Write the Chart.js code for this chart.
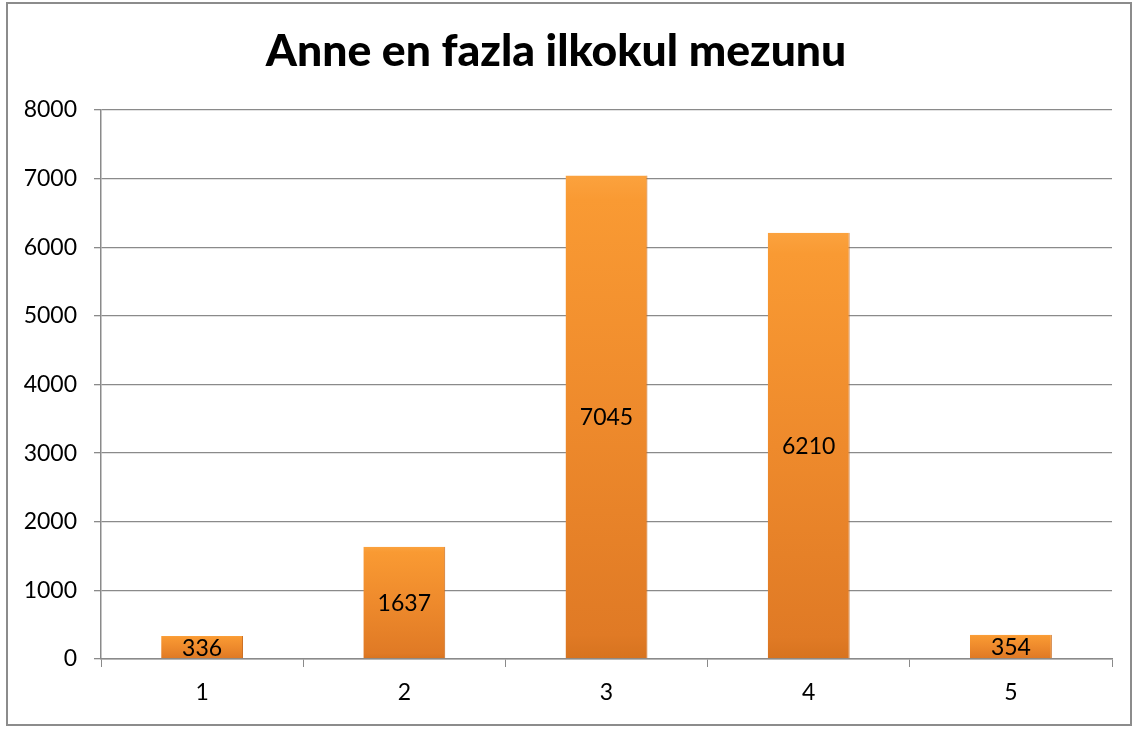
<!DOCTYPE html>
<html>
<head>
<meta charset="utf-8">
<script src="https://cdn.jsdelivr.net/npm/chart.js@4"></script>
<style>
html,body{margin:0;padding:0;background:#fff;}
#wrap{width:1134px;height:729px;position:relative;}
</style>
</head>
<body>
<div id="wrap"><canvas id="c" width="1134" height="729"></canvas></div>
<script>
const chartTitle = "Anne en fazla ilkokul mezunu";
const categories = ["1", "2", "3", "4", "5"];
const values = [336, 1637, 7045, 6210, 354];
const yTicks = [0, 1000, 2000, 3000, 4000, 5000, 6000, 7000, 8000];

const FONT = "Lato, 'Open Sans', sans-serif";
const GRID = "#8a8a8a";

const borderPlugin = {
  id: 'outerBorder',
  beforeDraw(chart) {
    const ctx = chart.ctx;
    ctx.save();
    ctx.fillStyle = '#fff';
    ctx.fillRect(0, 0, chart.width, chart.height);
    ctx.strokeStyle = '#8c8c8c';
    ctx.lineWidth = 2;
    ctx.strokeRect(7, 3, 1124, 722);
    ctx.restore();
  }
};

const labelPlugin = {
  id: 'barLabels',
  afterDatasetsDraw(chart) {
    const ctx = chart.ctx;
    const meta = chart.getDatasetMeta(0);
    ctx.save();
    ctx.font = "23px " + FONT;
    ctx.fillStyle = '#000';
    ctx.textAlign = 'center';
    ctx.textBaseline = 'middle';
    meta.data.forEach((bar, i) => {
      const p = bar.getCenterPoint();
      ctx.fillText(String(chart.data.datasets[0].data[i]), p.x, p.y + 1);
    });
    ctx.restore();
  }
};

function barFill(c) {
  const ch = c.chart;
  if (!ch.chartArea || c.type !== 'data' || !ch.scales.y) return '#F39232';
  const ys = ch.scales.y;
  const top = ys.getPixelForValue(c.raw);
  const bot = ys.getPixelForValue(0);
  if (!isFinite(top) || !isFinite(bot) || bot - top < 1) return '#F39232';
  const g = ch.ctx.createLinearGradient(0, top, 0, bot);
  g.addColorStop(0, '#FBA23E');
  g.addColorStop(0.05, '#F99A33');
  g.addColorStop(0.5, '#EE8A2C');
  g.addColorStop(0.95, '#E07A25');
  g.addColorStop(1, '#D7731F');
  return g;
}

new Chart(document.getElementById('c'), {
  type: 'bar',
  data: {
    labels: categories,
    datasets: [{
      data: values,
      backgroundColor: barFill,
      borderColor: '#C96A1C',
      borderWidth: {left: 0, right: 1, top: 0, bottom: 0},
      barPercentage: 0.9,
      categoryPercentage: 0.45
    }]
  },
  options: {
    responsive: false,
    animation: false,
    devicePixelRatio: 1,
    layout: { padding: { left: 0, right: 22, top: 0, bottom: 0 } },
    plugins: {
      legend: { display: false },
      tooltip: { enabled: false },
      title: {
        display: true,
        text: chartTitle,
        color: '#000',
        font: { family: FONT, size: 44.5, weight: '900', lineHeight: 1.2 },
        padding: { top: 25, bottom: 31.6 }
      }
    },
    scales: {
      x: {
        grid: { display: true, offset: true, drawOnChartArea: false, color: GRID, tickLength: 8, lineWidth: 1 },
        border: { display: true, color: GRID, width: 1.5 },
        ticks: { color: '#000', font: { family: FONT, size: 23 }, padding: 12 },
        afterFit(s) { s.height = 70; }
      },
      y: {
        min: 0,
        max: 8000,
        afterBuildTicks(s) { s.ticks = yTicks.map(v => ({ value: v })); },
        grid: { color: GRID, tickLength: 7, lineWidth: 1.3 },
        border: { display: true, color: GRID, width: 1.5 },
        ticks: { color: '#000', font: { family: FONT, size: 23 }, padding: 17, callback: v => String(v) },
        afterFit(s) { s.width = 101; }
      }
    }
  },
  plugins: [borderPlugin, labelPlugin]
});
</script>
</body>
</html>
